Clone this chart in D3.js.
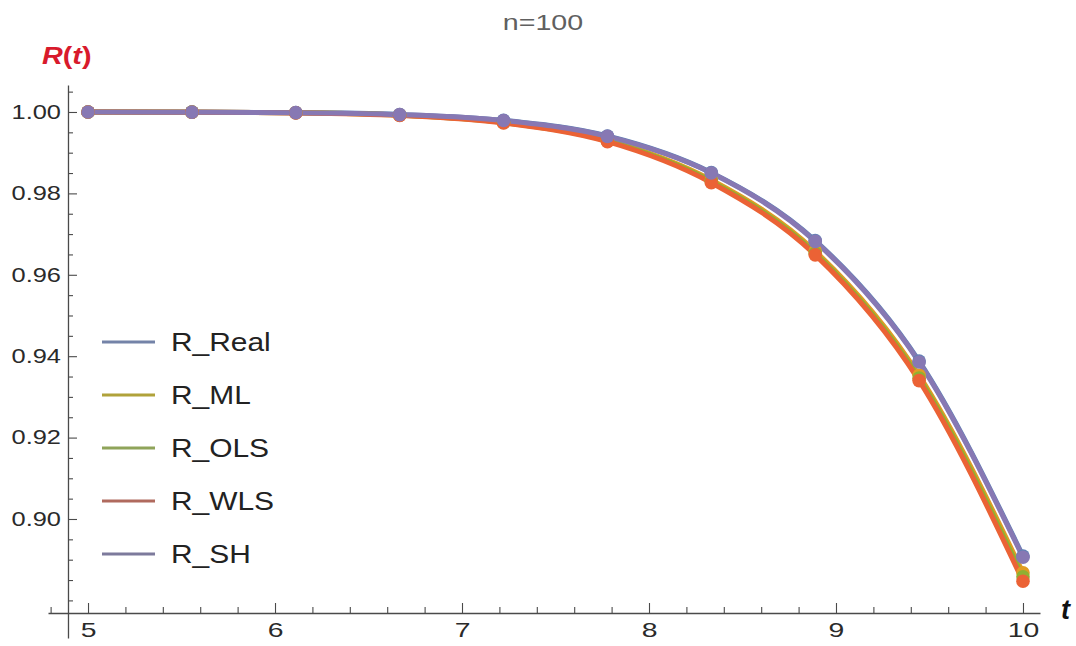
<!DOCTYPE html>
<html>
<head>
<meta charset="utf-8">
<script src="https://cdn.jsdelivr.net/npm/d3@7"></script>
<style>
  html, body { margin: 0; padding: 0; background: #fff; }
  svg text { font-family: "Liberation Sans", Arial, sans-serif; }
</style>
</head>
<body>
<svg id="chart" width="1076" height="646"></svg>
<script>
// Sample times and reliability estimates, n = 100
const tValues = [5, 5.5556, 6.1111, 6.6667, 7.2222, 7.7778, 8.3333, 8.8889, 9.4444, 10];
const rReal = [1.0000, 0.99997, 0.99985, 0.99938, 0.99795, 0.99410, 0.98510, 0.96840, 0.93880, 0.89090];
const rML   = [1.0000, 0.99996, 0.99981, 0.99925, 0.99750, 0.99310, 0.98330, 0.96580, 0.93530, 0.88680];
const rOLS  = [1.0000, 0.99996, 0.99980, 0.99920, 0.99740, 0.99290, 0.98295, 0.96530, 0.93460, 0.88580];
const rWLS  = [1.0000, 0.99995, 0.99978, 0.99915, 0.99730, 0.99270, 0.98260, 0.96490, 0.93400, 0.88470];
const rSH   = [1.0000, 0.99996, 0.99984, 0.99935, 0.99790, 0.99400, 0.98500, 0.96820, 0.93857, 0.89060];

const seriesNames = ["R_Real", "R_ML", "R_OLS", "R_WLS", "R_SH"];
const seriesValues = [rReal, rML, rOLS, rWLS, rSH];
const seriesColors = ["#5E81B5", "#E19C24", "#8FB032", "#EB6235", "#8778B3"];
const legendColors = ["#7483a8", "#b0a23a", "#8fa45a", "#b06a5e", "#7d7a9c"];

const xMajorTicks = [5, 6, 7, 8, 9, 10];
const yMajorTicks = [0.90, 0.92, 0.94, 0.96, 0.98, 1.00];
const titleText = "n=100";

const svg = d3.select("#chart");

const x = d3.scaleLinear().domain([4.786, 10.091]).range([48, 1040]);
const y = d3.scaleLinear().domain([0.87076, 1.00663]).range([638, 85]);
const xCross = 4.8929;   // where the vertical axis sits
const yCross = 0.8769;   // where the horizontal axis sits

// stretch text horizontally to the wider glyph proportions of the plot's typeface
function widen(sel, k) {
  sel.each(function () {
    const w = this.getComputedTextLength();
    d3.select(this).attr("textLength", w * k).attr("lengthAdjust", "spacingAndGlyphs");
  });
}

const axisColor = "#4a4a4a";

// minor ticks
const xMinor = d3.range(4.8, 10.01, 0.2).map(v => +v.toFixed(2)).filter(v => !xMajorTicks.includes(v));
const yMinor = d3.range(0.880, 1.0051, 0.005).map(v => +v.toFixed(3)).filter(v => !yMajorTicks.some(m => Math.abs(m - v) < 1e-9));

const gxMinor = svg.append("g").attr("transform", `translate(0,${y(yCross)})`)
  .call(d3.axisBottom(x).tickValues(xMinor).tickSizeInner(-6).tickSizeOuter(0).tickFormat(""));
const gx = svg.append("g").attr("transform", `translate(0,${y(yCross)})`)
  .call(d3.axisBottom(x).tickValues(xMajorTicks).tickSizeInner(-10).tickSizeOuter(0).tickPadding(9).tickFormat(d3.format("d")));

const gyMinor = svg.append("g").attr("transform", `translate(${x(xCross)},0)`)
  .call(d3.axisLeft(y).tickValues(yMinor).tickSizeInner(-5).tickSizeOuter(0).tickFormat(""));
const gy = svg.append("g").attr("transform", `translate(${x(xCross)},0)`)
  .call(d3.axisLeft(y).tickValues(yMajorTicks).tickSizeInner(-9).tickSizeOuter(0).tickPadding(7).tickFormat(d3.format(".2f")));

[gxMinor, gx, gyMinor, gy].forEach(g => {
  g.select(".domain").attr("stroke", axisColor).attr("stroke-width", 1.3);
  g.selectAll(".tick line").attr("stroke", axisColor).attr("stroke-width", 1.1);
});
gxMinor.select(".domain").remove();
gyMinor.select(".domain").remove();

gx.selectAll(".tick text").attr("font-size", 21).attr("fill", "#2a2a2a").attr("font-family", "Liberation Sans, Arial, sans-serif");
gy.selectAll(".tick text").attr("font-size", 20).attr("fill", "#2a2a2a").attr("font-family", "Liberation Sans, Arial, sans-serif");
widen(gx.selectAll(".tick text"), 1.35);
widen(gy.selectAll(".tick text"), 1.27);

// curves and sample points
const line = d3.line()
  .x((d, i) => x(tValues[i]))
  .y(d => y(d))
  .curve(d3.curveMonotoneX);

const plot = svg.append("g");
seriesValues.forEach((vals, s) => {
  plot.append("path")
    .datum(vals)
    .attr("d", line)
    .attr("fill", "none")
    .attr("stroke", seriesColors[s])
    .attr("stroke-width", 5)
    .attr("stroke-linejoin", "round");
});
seriesValues.forEach((vals, s) => {
  plot.append("g").selectAll("circle")
    .data(vals)
    .join("circle")
    .attr("cx", (d, i) => x(tValues[i]))
    .attr("cy", d => y(d))
    .attr("r", 6.8)
    .attr("fill", seriesColors[s]);
});

// legend
const legend = svg.append("g");
seriesNames.forEach((name, i) => {
  const ly = 342 + i * 53;
  legend.append("line")
    .attr("x1", 102).attr("x2", 155)
    .attr("y1", ly).attr("y2", ly)
    .attr("stroke", legendColors[i]).attr("stroke-width", 3);
  const t = legend.append("text")
    .attr("x", 171).attr("y", ly + 9)
    .attr("font-size", 26)
    .attr("fill", "#222")
    .text(name);
  widen(t, 1.15);
});

// title
const title = svg.append("text")
  .attr("x", 543).attr("y", 30)
  .attr("text-anchor", "middle")
  .attr("font-size", 22)
  .attr("fill", "#606060")
  .text(titleText);
widen(title, 1.3);

// axis labels
const yLab = svg.append("text")
  .attr("x", 42).attr("y", 64)
  .attr("font-size", 23)
  .attr("font-weight", "bold")
  .attr("fill", "#d81a2c");
yLab.append("tspan").attr("font-style", "italic").text("R");
yLab.append("tspan").text("(");
yLab.append("tspan").attr("font-style", "italic").text("t");
yLab.append("tspan").text(")");
widen(yLab, 1.25);

svg.append("text")
  .attr("x", 1061).attr("y", 619)
  .attr("font-size", 27)
  .attr("font-weight", "bold")
  .attr("font-style", "italic")
  .attr("fill", "#111")
  .text("t");
</script>
</body>
</html>
